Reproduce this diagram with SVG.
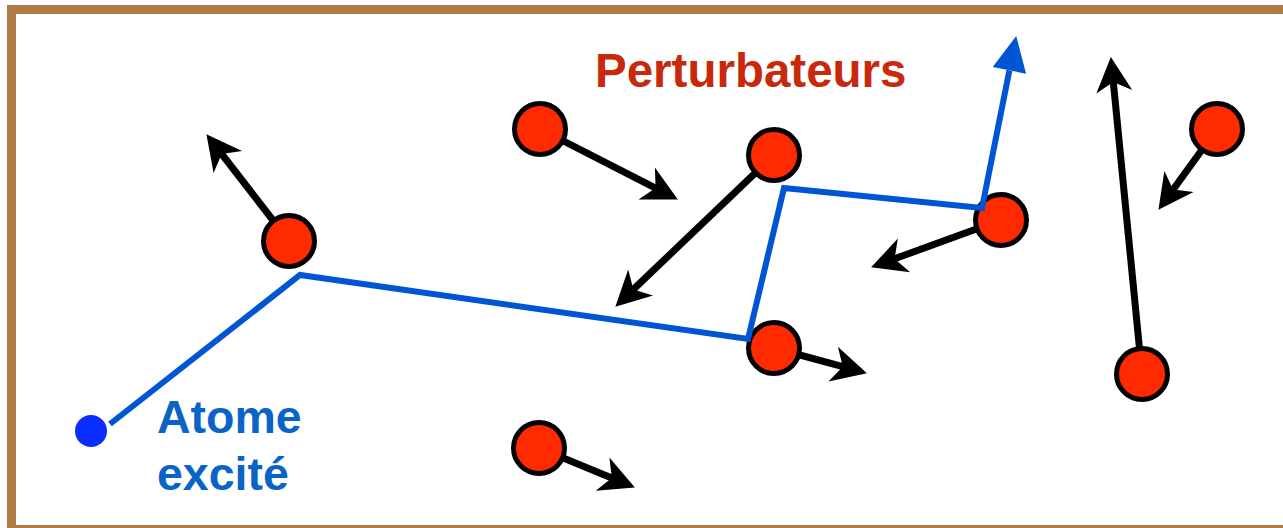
<svg xmlns="http://www.w3.org/2000/svg" width="1283" height="528" viewBox="0 0 1283 528">
<style>
.frame{fill:#fff;stroke:#AD7B45;stroke-width:9}
.arrow{stroke:#000;stroke-width:7;fill:none}
.path{stroke:#0055D4;stroke-width:6;fill:none;stroke-linejoin:miter}
.atom{fill:#FF2A00;stroke:#000;stroke-width:5}
.lbl{font-family:"Liberation Sans",Arial,sans-serif;font-weight:bold}
</style>
<defs>
<marker id="ah" markerUnits="userSpaceOnUse" orient="auto" refX="0" refY="0" markerWidth="40" markerHeight="40" overflow="visible">
<path d="M25,0 L-10,-18 L0,0 L-10,18 Z" fill="#000"/>
</marker>
<marker id="bh" markerUnits="userSpaceOnUse" orient="auto" refX="0" refY="0" markerWidth="40" markerHeight="40" overflow="visible">
<path d="M35,0 L0,-17 L0,17 Z" fill="#0055D4"/>
</marker>
</defs>
<rect class="frame" x="11.5" y="9.5" width="1290" height="520"/>
<g id="connectors">
<line class="arrow" x1="289" y1="241" x2="221.7" y2="154" marker-end="url(#ah)"/>
<line class="arrow" x1="540" y1="129" x2="655.6" y2="188.1" marker-end="url(#ah)"/>
<line class="arrow" x1="774" y1="155" x2="633.4" y2="289.4" marker-end="url(#ah)"/>
<line class="arrow" x1="1001" y1="220" x2="894.6" y2="258.8" marker-end="url(#ah)"/>
<line class="arrow" x1="1142" y1="374" x2="1113.3" y2="81.9" marker-end="url(#ah)"/>
<line class="arrow" x1="1217" y1="129" x2="1173.1" y2="189.6" marker-end="url(#ah)"/>
<line class="arrow" x1="774" y1="348" x2="842.8" y2="366.7" marker-end="url(#ah)"/>
<line class="arrow" x1="539" y1="448" x2="611.8" y2="477.9" marker-end="url(#ah)"/>
</g>
<g id="perturbers">
<circle class="atom" cx="289" cy="241" r="25.5"/>
<circle class="atom" cx="540" cy="129" r="25.5"/>
<circle class="atom" cx="774" cy="155" r="25.5"/>
<circle class="atom" cx="1001" cy="220" r="25.5"/>
<circle class="atom" cx="1217" cy="129" r="25.5"/>
<circle class="atom" cx="774" cy="348" r="25.5"/>
<circle class="atom" cx="1142" cy="374" r="25.5"/>
<circle class="atom" cx="539" cy="448" r="25.5"/>
</g>
<g id="trajectory">
<polyline class="path" points="110,424 300,275 748,339 784,188 982,208 1009.4,70.4" marker-end="url(#bh)"/>
</g>
<g id="excited-atom">
<circle cx="91" cy="431" r="16" fill="#0A2EFF"/>
</g>
<g id="labels">
<text class="lbl" x="595" y="87" font-size="47.5" fill="#C8290C">Perturbateurs</text>
<text class="lbl" x="157" y="433" font-size="46.5" fill="#0A64C8">Atome</text>
<text class="lbl" x="157" y="490" font-size="46.5" fill="#0A64C8">excité</text>
</g>
</svg>
